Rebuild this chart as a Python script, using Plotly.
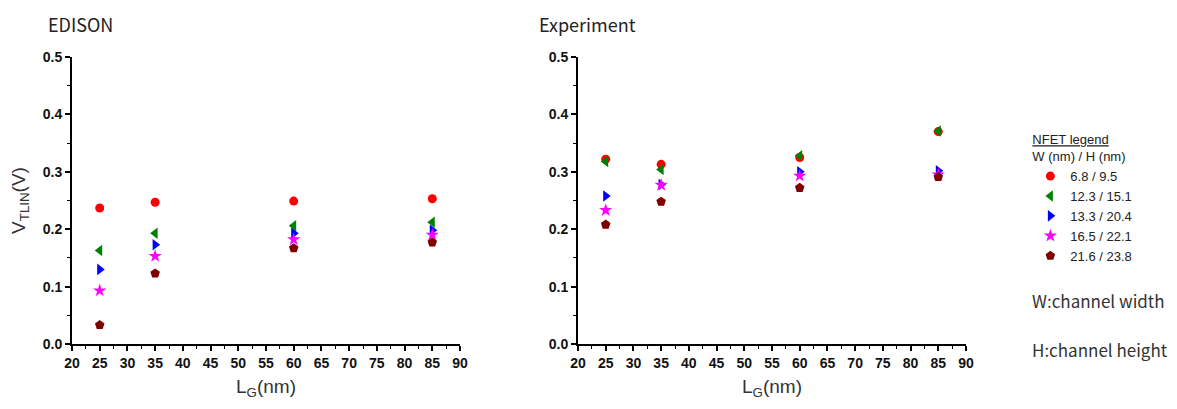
import plotly.graph_objects as go

lg = [25, 35, 60, 85]
series_names = ["6.8 / 9.5", "12.3 / 15.1", "13.3 / 20.4", "16.5 / 22.1", "21.6 / 23.8"]
edison_vals = [
    [0.237, 0.247, 0.249, 0.253],
    [0.163, 0.193, 0.206, 0.212],
    [0.130, 0.173, 0.193, 0.198],
    [0.093, 0.153, 0.182, 0.190],
    [0.033, 0.123, 0.167, 0.177],
]
exp_vals = [
    [0.322, 0.313, 0.325, 0.370],
    [0.318, 0.304, 0.328, 0.371],
    [0.258, 0.278, 0.300, 0.302],
    [0.233, 0.277, 0.293, 0.295],
    [0.208, 0.248, 0.272, 0.291],
]
x_ticks = list(range(20, 91, 5))
y_ticks = [0.0, 0.1, 0.2, 0.3, 0.4, 0.5]

colors = ["#ff0000", "#008000", "#0000ff", "#ff00ff", "#800000"]
symbols = ["circle", "triangle-left", "triangle-right", "star", "pentagon"]
sizes = [9, 10, 10, 10, 10]

fig = go.Figure()
for i, name in enumerate(series_names):
    mk = dict(color=colors[i], symbol=symbols[i], size=sizes[i], line=dict(width=0))
    fig.add_trace(go.Scatter(x=lg, y=edison_vals[i], mode="markers", name=name,
                             marker=mk, xaxis="x", yaxis="y", legendgroup=name))
    fig.add_trace(go.Scatter(x=lg, y=exp_vals[i], mode="markers", name=name,
                             marker=mk, xaxis="x2", yaxis="y2", legendgroup=name,
                             showlegend=False))

tickfont = dict(family="Liberation Sans, Arial", size=14, color="#111111", weight="bold")
titlefont = dict(family="Liberation Sans, Arial", size=19, color="#333333")

def xax(domain, anchor):
    return dict(domain=domain, anchor=anchor, range=[20, 90], tickvals=x_ticks,
                ticktext=[f"<b>{v}</b>" for v in x_ticks],
                ticks="outside", ticklen=5, tickwidth=1.5, tickcolor="#000",
                showline=True, linecolor="#000", linewidth=2, showgrid=False,
                zeroline=False, tickfont=tickfont,
                minor=dict(dtick=2.5, tick0=20, ticks="outside", ticklen=3, tickcolor="#000", tickwidth=1.2),
                title=dict(text="L<sub>G</sub>(nm)", font=titlefont, standoff=10))

def yax(domain_x_anchor, show_title):
    d = dict(domain=[0, 1], anchor=domain_x_anchor, range=[0, 0.5], tickvals=y_ticks,
             ticktext=[f"<b>{v:.1f}</b>" for v in y_ticks],
             ticks="outside", ticklen=5, tickwidth=1.5, tickcolor="#000",
             showline=True, linecolor="#000", linewidth=2, showgrid=False,
             zeroline=False, tickfont=tickfont,
             minor=dict(dtick=0.05, tick0=0, ticks="outside", ticklen=3, tickcolor="#000", tickwidth=1.2))
    if show_title:
        d["title"] = dict(text="V<sub>TLIN</sub>(V)", font=titlefont, standoff=12)
    return d

fig.update_layout(
    width=1177, height=409,
    margin=dict(l=64, r=219, t=49, b=73, autoexpand=False),
    paper_bgcolor="white", plot_bgcolor="white",
    xaxis=xax([0, 0.434], "y"),
    yaxis=yax("x", True),
    xaxis2=xax([0.566, 1.0], "y2"),
    yaxis2=yax("x2", False),
    showlegend=True,
    legend=dict(x=1.072, y=0.755, xanchor="left", yanchor="top",
                font=dict(family="Liberation Sans Narrow, Liberation Sans", size=13, color="#222"),
                tracegroupgap=0, itemsizing="trace", bgcolor="rgba(0,0,0,0)",
                title=dict(text="<span style='text-decoration:underline'>NFET legend</span><br>W (nm) / H (nm)",
                           font=dict(family="Liberation Sans Narrow, Liberation Sans", size=13, color="#222"))),
    annotations=[
        dict(text="EDISON", xref="paper", yref="paper", x=-0.029, y=1.0, yshift=48,
             xanchor="left", yanchor="top", showarrow=False,
             font=dict(family="Noto Sans CJK KR, Noto Sans", size=18, color="#222")),
        dict(text="Experiment", xref="paper", yref="paper", x=0.52, y=1.0, yshift=48,
             xanchor="left", yanchor="top", showarrow=False,
             font=dict(family="Noto Sans CJK KR, Noto Sans", size=18, color="#222")),
        dict(text="W:channel width", xref="paper", yref="paper", x=1.072, y=0.15,
             xanchor="left", yanchor="middle", showarrow=False,
             font=dict(family="Noto Sans CJK KR, Noto Sans", size=17, color="#333")),
        dict(text="H:channel height", xref="paper", yref="paper", x=1.072, y=-0.018,
             xanchor="left", yanchor="middle", showarrow=False,
             font=dict(family="Noto Sans CJK KR, Noto Sans", size=17, color="#333")),
    ],
)

fig.write_html("out.html")
